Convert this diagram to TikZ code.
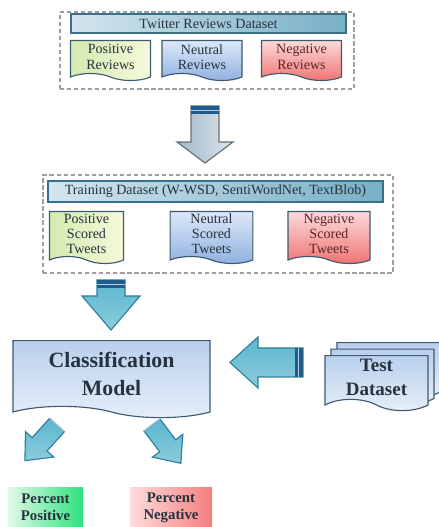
\documentclass[tikz,border=0pt]{standalone}
\usepackage{fontspec}
\setmainfont{Liberation Serif}
\usetikzlibrary{shapes.symbols}

\definecolor{textdark}{HTML}{26323E}
\definecolor{textred}{HTML}{5E2424}
\definecolor{docline}{HTML}{3E5A70}
\definecolor{barline}{HTML}{3A7088}
\definecolor{barleft}{HTML}{D3E5EE}
\definecolor{barright}{HTML}{78AFC6}
\definecolor{posa}{HTML}{D4EAB0}
\definecolor{posb}{HTML}{F5F9DA}
\definecolor{neua}{HTML}{DDE8F7}
\definecolor{neub}{HTML}{8DB0E0}
\definecolor{nega}{HTML}{FCDADA}
\definecolor{negb}{HTML}{EF7272}
\definecolor{modela}{HTML}{B9D0EC}
\definecolor{modelb}{HTML}{E6EFF9}
\definecolor{tealdark}{HTML}{2E7E9A}
\definecolor{teala}{HTML}{5AB8CF}
\definecolor{tealb}{HTML}{8CCBDB}
\definecolor{graya}{HTML}{A3B9C8}
\definecolor{grayb}{HTML}{DCE5EC}
\definecolor{bandblue}{HTML}{1E5C8E}
\definecolor{greena}{HTML}{2EE37E}
\definecolor{greenb}{HTML}{E2F9E8}
\definecolor{pinka}{HTML}{FCDCDC}
\definecolor{pinkb}{HTML}{F77E7E}

\tikzset{
  pics/blockarrow/.style n args={5}{code={
    % length / shaft / head width / head length / band
    \path[pic actions] (0,-#2/2) -- (#1-#4,-#2/2) -- (#1-#4,-#3/2) -- (#1,0)
      -- (#1-#4,#3/2) -- (#1-#4,#2/2) -- (0,#2/2) -- cycle;
    \fill[bandblue] (0,-#2/2) rectangle (#5,#2/2);
    \draw[white!70!bandblue, line width=0.6pt] (#5*0.6,-#2/2) -- (#5*0.6,#2/2);
  }}
}

\begin{document}
\begin{tikzpicture}[x=0.025cm, y=0.025cm,
    docbox/.style={shape=tape, tape bend top=none, tape bend bottom=out and in,
      tape bend height=5pt, draw=docline, line width=0.8pt, minimum width=2cm,
      align=center, text=textdark, inner sep=1pt,
      font=\fontsize{10}{10.8}\selectfont},
    titlebar/.style={draw=barline, line width=0.9pt, left color=barleft,
      right color=barright, text=textdark, inner sep=0pt,
      font=\fontsize{10}{11}\selectfont},
    groupbox/.style={draw=gray!75, densely dashed, line width=0.8pt},
    bigdoc/.style={docbox, tape bend height=8pt, top color=modela,
      bottom color=modelb, font=\fontsize{15.5}{20}\selectfont\bfseries},
    result/.style={align=center, text=textdark, inner sep=0pt,
      font=\fontsize{10.5}{12}\selectfont\bfseries},
    tealarrow/.style={draw=tealdark, line width=0.8pt, top color=teala,
      bottom color=tealb}]
  \useasboundingbox (0,0) rectangle (439,527);

  % Nodes
  \node[groupbox, minimum width=7.35cm, minimum height=1.925cm] at (207,476.5) (grptwitter) {};
  \node[titlebar, minimum width=6.875cm, minimum height=0.475cm] at (208.5,503.5) (twitter) {Twitter Reviews Dataset};
  \node[docbox, left color=posa, right color=posb, minimum height=1cm] at (110.5,470) (posrev) {Positive\\Reviews};
  \node[docbox, top color=neua, bottom color=neub, minimum height=1cm] at (202,470) (neurev) {Neutral\\Reviews};
  \node[docbox, top color=nega, bottom color=negb, text=textred, minimum height=1cm] at (301.5,470) (negrev) {Negative\\Reviews};

  \node[groupbox, minimum width=8.75cm, minimum height=2.45cm] at (218,303) (grptrain) {};
  \node[titlebar, minimum width=8.375cm, minimum height=0.525cm] at (215.5,335.5) (trainset) {Training Dataset (W-WSD, SentiWordNet, TextBlob)};
  \node[docbox, left color=posa, right color=posb, minimum height=1.3cm, minimum width=1.85cm] at (86.5,293) (postw) {Positive\\Scored\\Tweets};
  \node[docbox, top color=neua, bottom color=neub, minimum height=1.3cm, minimum width=2.07cm] at (211.5,293) (neutw) {Neutral\\Scored\\Tweets};
  \node[docbox, top color=nega, bottom color=negb, text=textred, minimum height=1.3cm, minimum width=2.05cm] at (329,293) (negtw) {Negative\\Scored\\Tweets};

  \node[bigdoc, minimum width=4.925cm, minimum height=1.925cm] at (111.5,153.5) (classmodel) {Classification\\Model};

  \node[bigdoc, font=\fontsize{13.5}{17}\selectfont\bfseries, minimum width=2.575cm, minimum height=1.375cm] at (388.5,162.5) (testback2) {};
  \node[bigdoc, font=\fontsize{13.5}{17}\selectfont\bfseries, minimum width=2.575cm, minimum height=1.375cm] at (382.5,156) (testback1) {};
  \node[bigdoc, font=\fontsize{13.5}{17}\selectfont\bfseries, minimum width=2.575cm, minimum height=1.375cm] at (376.5,149.5) (testset) {Test\\Dataset};

  \node[result, left color=greenb, right color=greena, minimum width=1.875cm, minimum height=0.975cm] at (45.5,19.5) (percpos) {Percent\\Positive};
  \node[result, left color=pinka, right color=pinkb, minimum width=2.05cm, minimum height=0.975cm] at (171,19.5) (percneg) {Percent\\Negative};

  % Arrows
  \pic[draw=gray!60!docline, line width=0.8pt, left color=graya, right color=grayb, rotate=-90] at (205,421) {blockarrow={57}{28}{56}{21}{8}};
  \pic[tealarrow, rotate=-90] at (111,247) {blockarrow={50}{28}{58}{34}{8}};
  \pic[tealarrow, rotate=180] at (303,164.5) {blockarrow={73}{29}{51}{28}{8}};
  \pic[tealarrow, rotate=228] at (57,102) {blockarrow={48}{20}{38}{22}{0}};
  \pic[tealarrow, rotate=-53] at (152,102) {blockarrow={48}{20}{38}{22}{0}};
\end{tikzpicture}
\end{document}
